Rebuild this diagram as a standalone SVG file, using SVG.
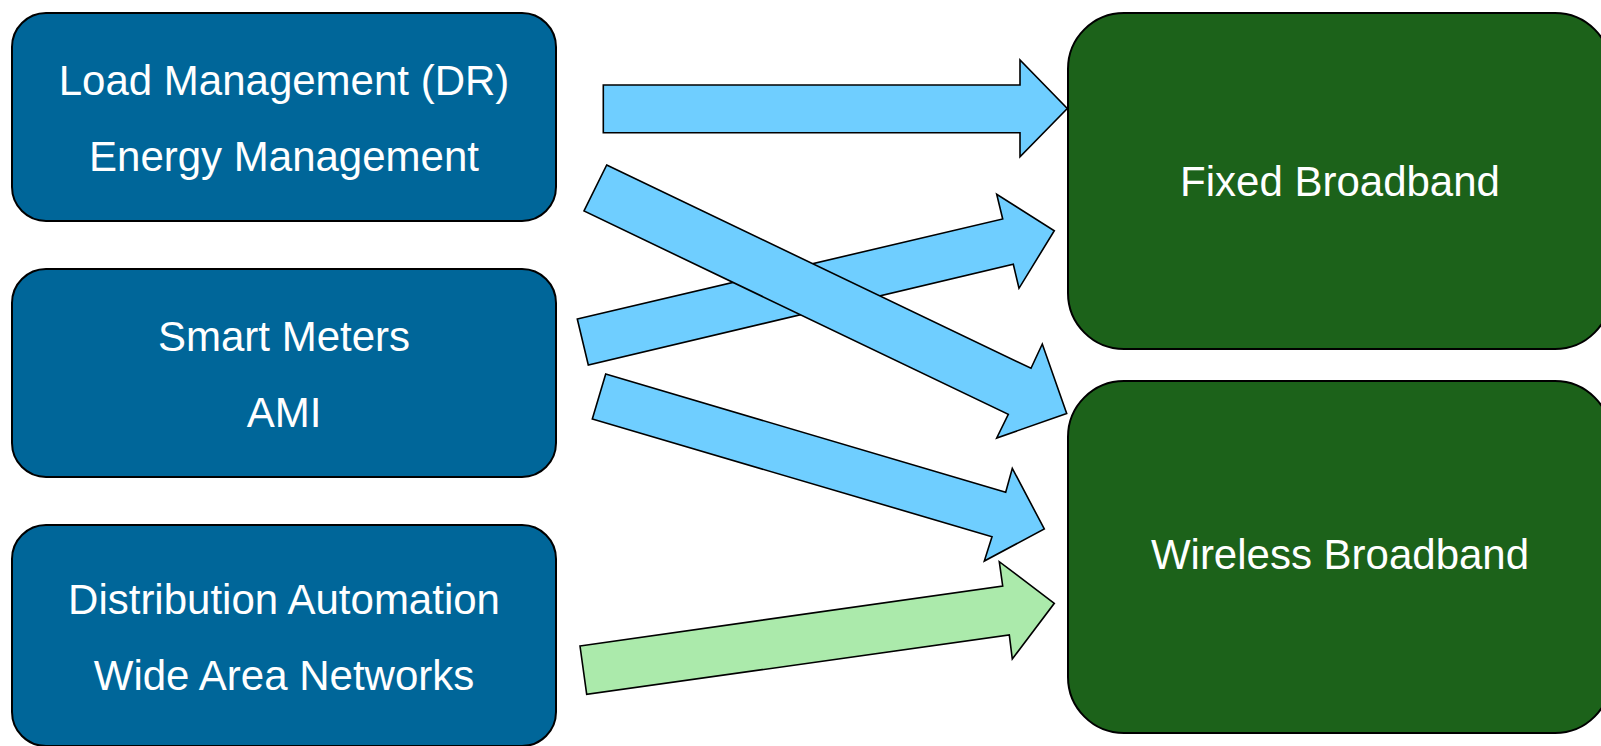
<svg xmlns="http://www.w3.org/2000/svg" width="1601" height="746" viewBox="0 0 1601 746">
  <style>
    .src rect { fill: #006699; stroke: #000; stroke-width: 2; }
    .dst rect { fill: #1C621A; stroke: #000; stroke-width: 2; }
    text { font-family: "Liberation Sans", Arial, sans-serif; font-size: 42px; fill: #fff; text-anchor: middle; }
    .flow { stroke: #000; stroke-width: 1.6; stroke-linejoin: miter; }
    .blue { fill: #6FCEFF; }
    .green { fill: #ABEAAB; }
  </style>
  <rect width="1601" height="746" fill="#fff"/>

  <!-- application boxes (left column) -->
  <g id="node-load" class="src">
    <rect x="12" y="13" width="544" height="208" rx="34" ry="34"/>
    <text x="284" y="95">Load Management (DR)</text>
    <text x="284" y="171">Energy Management</text>
  </g>
  <g id="node-meters" class="src">
    <rect x="12" y="269" width="544" height="208" rx="34" ry="34"/>
    <text x="284" y="351">Smart Meters</text>
    <text x="284" y="427">AMI</text>
  </g>
  <g id="node-distribution" class="src">
    <rect x="12" y="525" width="544" height="221" rx="34" ry="34"/>
    <text x="284" y="614">Distribution Automation</text>
    <text x="284" y="690">Wide Area Networks</text>
  </g>

  <!-- network boxes (right column) -->
  <g id="node-fixed" class="dst">
    <rect x="1068" y="13" width="543" height="336" rx="56" ry="56"/>
    <text x="1340" y="196">Fixed Broadband</text>
  </g>
  <g id="node-wireless" class="dst">
    <rect x="1068" y="381" width="543" height="352" rx="56" ry="56"/>
    <text x="1340" y="569">Wireless Broadband</text>
  </g>

  <!-- block arrows -->
  <g id="connectors">
    <polygon class="flow blue" points="603.3,85 1020,85 1020,60 1067.3,108.5 1020,156.7 1020,132.7 603.3,132.7"/>
    <polygon class="flow blue" points="577.3,319 1002.7,219 996.7,194.3 1054.3,230.7 1019,288.3 1013.3,264.3 588.3,365"/>
    <polygon class="flow blue" points="606.7,165 1031,368.3 1042.3,344 1066.7,413.5 996.7,438 1008.3,414.3 584,211"/>
    <polygon class="flow blue" points="605.7,374 1005.7,492.3 1012.3,468.3 1044.3,529 984.3,561 992,536.7 592.3,419"/>
    <polygon class="flow green" points="580,646 1002.7,586 999.3,561.7 1054.3,603.3 1012.3,659 1009.3,635 586.7,694.3"/>
  </g>
</svg>
